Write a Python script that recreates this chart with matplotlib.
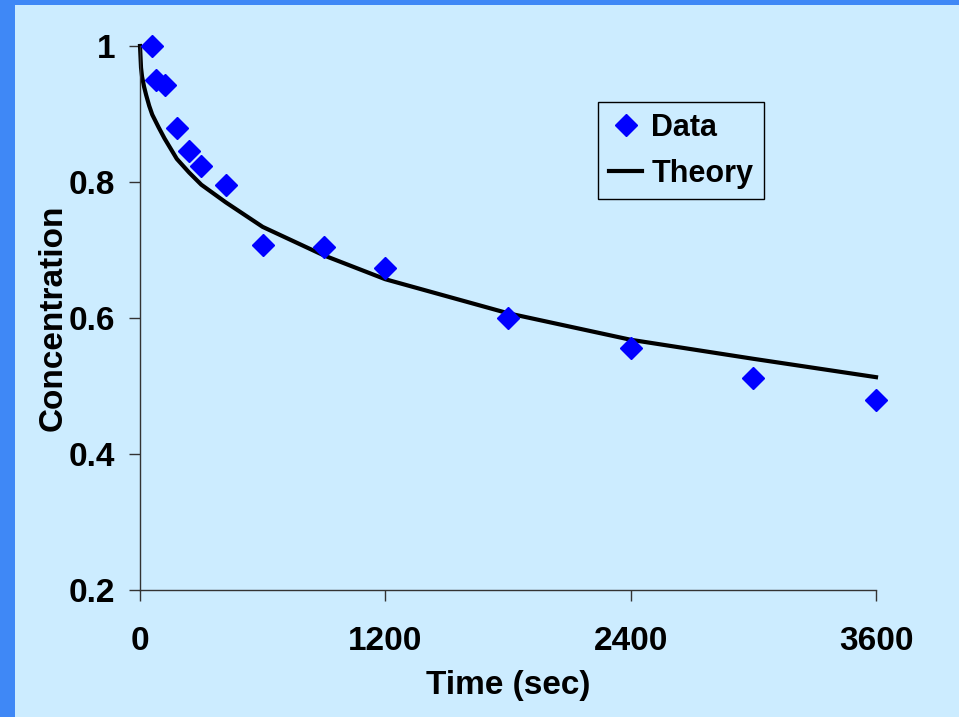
import matplotlib
matplotlib.use("Agg")
import matplotlib.pyplot as plt
from matplotlib.patches import Rectangle

# Data
data_time = [60, 80, 120, 180, 240, 300, 420, 600, 900, 1200, 1800, 2400, 3000, 3600]
data_conc = [1.000, 0.950, 0.942, 0.880, 0.846, 0.824, 0.795, 0.708, 0.704, 0.674, 0.600, 0.556, 0.512, 0.479]

theory_time = [0, 5, 10, 20, 30, 45, 60, 90, 120, 180, 240, 300, 420, 600, 900, 1200, 1800, 2400, 3000, 3600]
theory_conc = [1.000, 0.968, 0.955, 0.940, 0.928, 0.912, 0.899, 0.881, 0.864, 0.834, 0.814, 0.796, 0.770, 0.734,
               0.692, 0.657, 0.607, 0.568, 0.540, 0.513]

x_ticks = [0, 1200, 2400, 3600]
y_ticks = [0.2, 0.4, 0.6, 0.8, 1.0]
y_tick_labels = ["0.2", "0.4", "0.6", "0.8", "1"]

plt.rcParams['font.family'] = ['Liberation Sans', 'DejaVu Sans']
plt.rcParams['font.weight'] = 'bold'

W, H = 959, 717
fig = plt.figure(figsize=(W / 100, H / 100), dpi=100, facecolor='#3F88F6')
fig.patches.append(Rectangle((15 / W, 0), 1 - 15 / W, 1 - 5 / H, transform=fig.transFigure,
                             facecolor='#CCECFF', edgecolor='none', zorder=-10))

ax = fig.add_axes([140 / W, (H - 590) / H, (876 - 140) / W, (590 - 46) / H])
ax.set_zorder(1)
ax.set_facecolor('none')

ax.plot(theory_time, theory_conc, color='black', lw=3, label='Theory', zorder=2, clip_on=False)
ax.plot(data_time, data_conc, linestyle='none', marker='D', markersize=11, color='#0000FF',
        markeredgecolor='#0000FF', label='Data', zorder=3, clip_on=False)

ax.set_xlim(0, 3600)
ax.set_ylim(0.2, 1.0)
ax.set_xticks(x_ticks)
ax.set_yticks(y_ticks)
ax.set_yticklabels(y_tick_labels)
ax.tick_params(axis='both', direction='out', length=8, width=1, color='#333333', labelsize=24)
ax.tick_params(axis='x', pad=18)
ax.tick_params(axis='y', pad=10)
for s in ['top', 'right']:
    ax.spines[s].set_visible(False)
for s in ['left', 'bottom']:
    ax.spines[s].set_color('#333333')
    ax.spines[s].set_linewidth(1)

ax.set_xlabel('Time (sec)', fontsize=24, fontweight='bold')
ax.xaxis.set_label_coords(0.5, (590 - 670) / 544)
ax.set_ylabel('Concentration', fontsize=24, fontweight='bold')
ax.yaxis.set_label_coords((69 - 140) / 736, 0.5)

handles, labels = ax.get_legend_handles_labels()
leg = ax.legend(handles[::-1], labels[::-1], loc='upper left',
                bbox_to_anchor=((598 - 140) / 736, (590 - 102) / 544),
                frameon=True, fancybox=False, edgecolor='black', facecolor='#CCECFF', framealpha=1,
                prop={'size': 22, 'weight': 'bold'}, handlelength=1.1, handletextpad=0.3,
                borderpad=0.35, labelspacing=0.52, borderaxespad=0)
leg.get_frame().set_linewidth(1)

fig.savefig('out.png', dpi=100, facecolor=fig.get_facecolor())
